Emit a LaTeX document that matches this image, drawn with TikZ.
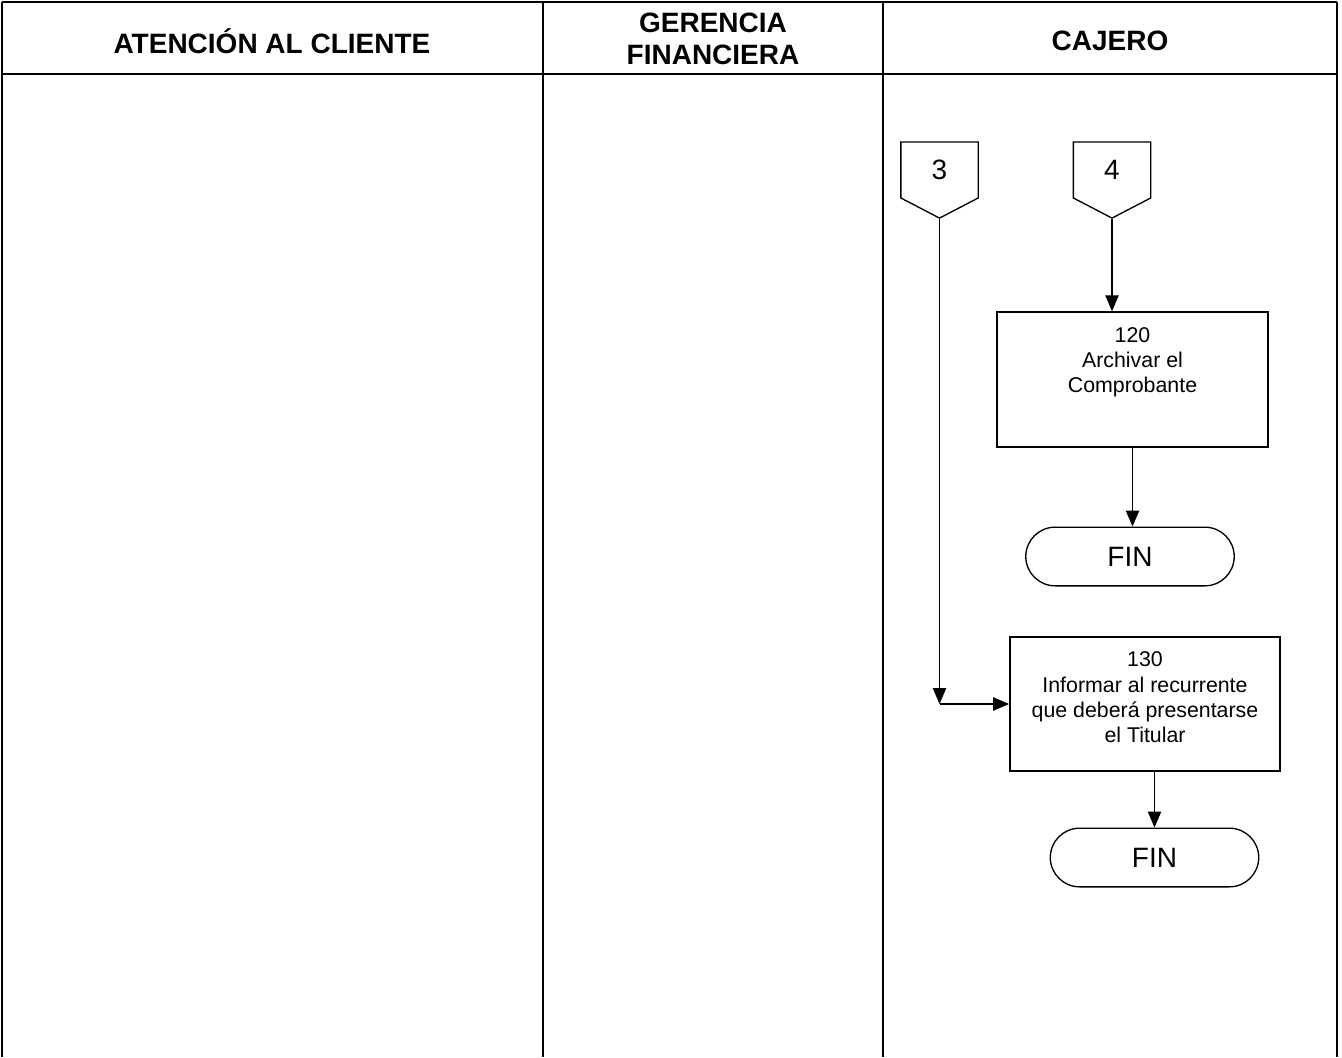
\documentclass[tikz,border=0pt]{standalone}
\usepackage{fontspec}
\setmainfont{Liberation Sans}
\usetikzlibrary{arrows.meta,shapes.symbols,shapes.misc,positioning}
\tikzset{
  lanehead/.style={align=center, font=\fontsize{21}{24}\selectfont\bfseries},
  offpage/.style={draw, line width=1pt, signal, signal to=south, signal from=nowhere, signal pointer angle=125, minimum width=58pt, minimum height=45pt, inner sep=0pt, font=\fontsize{21}{25}\selectfont},
  procbox/.style={draw, line width=1.3pt, minimum width=203pt, minimum height=101pt},
  boxtext/.style={align=center, inner sep=0pt, font=\fontsize{16}{18.8}\selectfont},
  finbox/.style={draw, line width=1pt, rounded rectangle, minimum width=163pt, minimum height=44pt, font=\fontsize{21}{25}\selectfont},
  flow/.style={line width=1pt, -{Triangle[length=12pt,width=10pt]}}
}
\begin{document}
\begin{tikzpicture}[x=0.75pt,y=-0.75pt]
\useasboundingbox (0,0) rectangle (1342,1057);
% lanes
\draw[line width=2.2pt] (2,2) -- (1337,2);
\draw[line width=2.2pt] (2,74) -- (1337,74);
\draw[line width=1.1pt] (2,2) -- (2,1057);
\draw[line width=1.8pt] (543,2) -- (543,1057);
\draw[line width=1.1pt] (883,2) -- (883,1057);
\draw[line width=1.8pt] (1337,2) -- (1337,1057);
\node[lanehead] (h1) at (272,41) {ATENCIÓN AL CLIENTE};
\node[lanehead] (h2) at (713,39) {GERENCIA\\FINANCIERA};
\node[lanehead] (h3) at (1110,41) {CAJERO};
% cajero
\node[offpage] (c3) at (939.5,170) {3};
\node[offpage] (c4) at (1112,170) {4};
\node[procbox] (b120) at (1132.5,379.5) {};
\node[boxtext, below=12pt of b120.north] (t120) {120\\Archivar el\\Comprobante};
\node[finbox] (fin1) at (1130,556.5) {FIN};
\node[procbox, minimum width=202.5pt] (b130) at (1145,704) {};
\node[boxtext, below=12pt of b130.north] (t130) {130\\Informar al recurrente\\que deberá presentarse\\el Titular};
\node[finbox] (fin2) at (1154.5,857.5) {FIN};
\coordinate (k3) at (c3.south |- b130.west);
\draw[flow] (c4.south) -- (c4.south |- b120.north);
\draw[flow] (b120.south) -- (b120.south |- fin1.north);
\draw[flow] (c3.south) -- (k3);
\draw[flow] (k3) -- (b130.west);
\draw[flow] (fin2.north |- b130.south) -- (fin2.north);
\end{tikzpicture}
\end{document}
